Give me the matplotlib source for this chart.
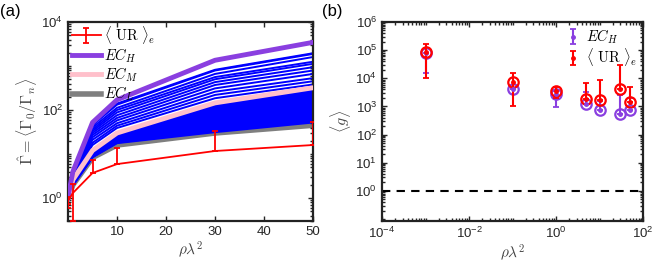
import math

import matplotlib
matplotlib.use("Agg")
import matplotlib.pyplot as plt
from matplotlib.ticker import FixedLocator, FuncFormatter, LogLocator, NullFormatter

plt.rcParams['font.family'] = ['Liberation Sans', 'DejaVu Sans']
plt.rcParams['mathtext.fontset'] = 'cm'

# ---- panel (a) data ----
rho_a = [0.001, 0.1, 1, 5, 10, 30, 50]

ec_h = [1, 1.2, 4.0, 52, 170, 1350, 3450]
ec_m = [1, 1.1, 2.6, 12, 30, 145, 320]
ec_l = [1, 1.05, 2.0, 8.3, 16, 30, 45]

# blue curves above EC_M (sparse)
blue_upper = [
    [1, 1.2, 3.8, 46, 140, 820, 1950],
    [1, 1.2, 3.8, 45, 132, 790, 1880],
    [1, 1.2, 3.6, 40, 112, 660, 1600],
    [1, 1.2, 3.5, 36, 100, 560, 1250],
    [1, 1.2, 3.4, 33, 88, 500, 1120],
    [1, 1.2, 3.3, 30, 76, 430, 940],
    [1, 1.2, 3.2, 27, 66, 370, 790],
    [1, 1.2, 3.1, 24, 58, 310, 660],
    [1, 1.2, 3.0, 21, 50, 260, 530],
    [1, 1.1, 2.9, 18, 44, 220, 450],
    [1, 1.1, 2.8, 16, 39, 185, 380],
]

# blue curves between EC_L and EC_M (dense)
blue_dense = [
    [1, 1.1, 2.6, 11.8, 29, 135, 280],
    [1, 1.1, 2.6, 11.6, 28.5, 125, 260],
    [1, 1.1, 2.5, 11.4, 28, 115, 240],
    [1, 1.1, 2.5, 11.2, 27, 106, 220],
    [1, 1.1, 2.4, 11.0, 26, 97, 200],
    [1, 1.1, 2.4, 10.8, 25.5, 90, 185],
    [1, 1.1, 2.4, 10.6, 25, 83, 170],
    [1, 1.1, 2.3, 10.3, 24, 77, 155],
    [1, 1.1, 2.3, 10.1, 23.5, 70, 140],
    [1, 1.1, 2.3, 9.9, 23, 65, 128],
    [1, 1.1, 2.2, 9.7, 22, 60, 116],
    [1, 1.1, 2.2, 9.5, 21.5, 55, 105],
    [1, 1.1, 2.2, 9.3, 21, 50, 95],
    [1, 1.1, 2.1, 9.2, 20.5, 46, 86],
    [1, 1.1, 2.1, 9.0, 20, 43, 78],
    [1, 1.1, 2.1, 8.9, 19.5, 40, 71],
    [1, 1.1, 2.1, 8.8, 19, 37, 64],
    [1, 1.05, 2.0, 8.7, 18.5, 34, 58],
    [1, 1.05, 2.0, 8.6, 18, 32, 53],
]

ur_a = [1.0, 0.9, 1.3, 3.7, 5.9, 11.7, 16]
ur_a_lo = [0.73, 0.6, 0.3, 3.7, 5.9, 11.7, 16]
ur_a_hi = [1.05, 1.0, 2.1, 7.4, 13.7, 33, 53]

# ---- panel (b) data ----
rho_b = [1e-3, 0.1, 1, 5, 10, 30, 50]

g_ech = [8e4, 4.1e3, 2.7e3, 1.2e3, 770, 540, 770]
g_ech_lo = [1.6e4, 4.1e3, 950, 1.2e3, 770, 540, 770]
g_ech_hi = [8e4, 4.1e3, 3.5e3, 3.3e3, 1.5e3, 2.5e3, 2.0e3]

g_ur = [8.5e4, 7.5e3, 3.5e3, 1.8e3, 1.75e3, 4.1e3, 1.4e3]
g_ur_lo = [1e4, 1e3, 2e3, 1.8e3, 1.75e3, 4.1e3, 1.4e3]
g_ur_hi = [1.6e5, 1.5e4, 5e3, 6.6e3, 8.7e3, 3e4, 5e3]

purple = '#8A3FE0'
txt = '#262626'
lbl = '#444444'


def err(y, lo, hi):
    return [[a - b for a, b in zip(y, lo)], [b - a for a, b in zip(y, hi)]]


def pow_fmt(v, pos):
    return r'$\mathregular{10^{%d}}$' % int(round(math.log10(v)))


def style(ax):
    for s in ax.spines.values():
        s.set_linewidth(1.6)
        s.set_color('#222222')
    ax.tick_params(which='both', direction='in', top=True, right=True,
                   labelsize=9.5, colors=txt, width=1.0)
    ax.tick_params(which='major', length=3.5)
    ax.tick_params(which='minor', length=2)


fig = plt.figure(figsize=(6.54, 2.67), dpi=100)
ax1 = fig.add_axes([68 / 654, 46 / 267, 245 / 654, 199 / 267])
ax2 = fig.add_axes([382 / 654, 46 / 267, 261 / 654, 199 / 267])

# (a)
ax1.plot(rho_a, ec_l, color='#7F7F7F', lw=4, label='$EC_L$', zorder=1)
for row in blue_dense:
    ax1.plot(rho_a, row, color='#0000FF', lw=2.0, zorder=2)
for row in blue_upper:
    ax1.plot(rho_a, row, color='#0000FF', lw=1.4, zorder=2)
ax1.plot(rho_a, ec_m, color='#FFC0CB', lw=3.5, label='$EC_M$', zorder=3)
ax1.plot(rho_a, ec_h, color=purple, lw=3.5, label='$EC_H$', zorder=3)
ax1.errorbar(rho_a, ur_a, yerr=err(ur_a, ur_a_lo, ur_a_hi), color='#FF0000',
             lw=1.3, capsize=2.5, capthick=1.3, zorder=4,
             label=r'$\langle\ \mathrm{UR}\ \rangle_e$')

ax1.set_yscale('log')
ax1.set_xlim(0, 50)
ax1.set_ylim(0.3, 1e4)
ax1.xaxis.set_major_locator(FixedLocator([10, 20, 30, 40, 50]))
ax1.yaxis.set_major_locator(FixedLocator([1, 1e2, 1e4]))
ax1.yaxis.set_minor_locator(LogLocator(base=10, subs=range(1, 10), numticks=20))
ax1.yaxis.set_minor_formatter(NullFormatter())
ax1.yaxis.set_major_formatter(FuncFormatter(pow_fmt))
style(ax1)
ax1.set_xlabel(r'$\rho\lambda^2$', fontsize=11, color=lbl, labelpad=1)
ax1.set_ylabel(r'$\hat{\Gamma}=\langle\Gamma_0/\Gamma_n\rangle$', fontsize=11.5,
               color=lbl, labelpad=2)
h, l = ax1.get_legend_handles_labels()
order = [3, 2, 1, 0]
ax1.legend([h[i] for i in order], [l[i] for i in order], loc='upper left',
           bbox_to_anchor=(0.0, 1.01), frameon=False, fontsize=10.5,
           handlelength=2.0, handletextpad=0.2, labelspacing=0.05,
           borderaxespad=0.05, borderpad=0.2)

# (b)
ax2.errorbar(rho_b, g_ech, yerr=err(g_ech, g_ech_lo, g_ech_hi), fmt='.', color=purple,
             ms=5, lw=1.5, capsize=2, capthick=1.3, label='$EC_H$')
ax2.plot(rho_b, g_ech, 'o', mfc='none', mec=purple, ms=7.5, mew=1.6)
ax2.errorbar(rho_b, g_ur, yerr=err(g_ur, g_ur_lo, g_ur_hi), fmt='.', color='#FF0000',
             ms=5, lw=1.5, capsize=2, capthick=1.3,
             label=r'$\langle\ \mathrm{UR}\ \rangle_e$')
ax2.plot(rho_b, g_ur, 'o', mfc='none', mec='#FF0000', ms=7.5, mew=1.6)
ax2.axhline(1, color='black', ls='--', lw=1.5, dashes=(4, 3))

ax2.set_xscale('log')
ax2.set_yscale('log')
ax2.set_xlim(1e-4, 1e2)
ax2.set_ylim(10 ** -1.07, 1e6)
ax2.xaxis.set_major_locator(FixedLocator([1e-4, 1e-2, 1, 1e2]))
ax2.xaxis.set_minor_locator(LogLocator(base=10, subs=range(1, 10), numticks=20))
ax2.xaxis.set_minor_formatter(NullFormatter())
ax2.xaxis.set_major_formatter(FuncFormatter(pow_fmt))
ax2.yaxis.set_major_locator(FixedLocator([1, 10, 1e2, 1e3, 1e4, 1e5, 1e6]))
ax2.yaxis.set_minor_locator(LogLocator(base=10, subs=range(1, 10), numticks=20))
ax2.yaxis.set_minor_formatter(NullFormatter())
ax2.yaxis.set_major_formatter(FuncFormatter(pow_fmt))
style(ax2)
ax2.set_xlabel(r'$\rho\lambda^2$', fontsize=11, color=lbl, labelpad=1)
ax2.set_ylabel(r'$\langle g\rangle$', fontsize=11.5, color=lbl, labelpad=2)
ax2.legend(loc='upper right', bbox_to_anchor=(1.0, 1.0), frameon=False,
           fontsize=10.5, handlelength=1.0, handletextpad=0.4, labelspacing=0.0,
           borderaxespad=0.1, borderpad=0.3)

fig.text(0.0, 0.985, '(a)', fontsize=12, va='top', ha='left')
fig.text(0.493, 0.985, '(b)', fontsize=12, va='top', ha='left')

fig.savefig('out.png', dpi=100)
